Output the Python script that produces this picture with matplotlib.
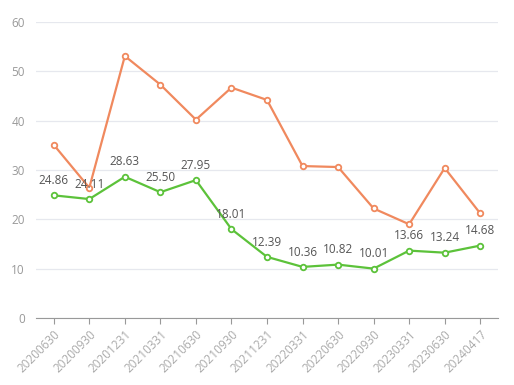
import matplotlib
matplotlib.use("Agg")
import matplotlib.pyplot as plt

# ---------- DATA ----------
dates = ["20200630", "20200930", "20201231", "20210331", "20210630", "20210930",
         "20211231", "20220331", "20220630", "20220930", "20230331", "20230630",
         "20240417"]
orange_vals = [35.1, 26.4, 53.1, 47.3, 40.2, 46.7, 44.2, 30.8, 30.6, 22.2, 19.0, 30.4, 21.2]
green_vals = [24.86, 24.11, 28.63, 25.50, 27.95, 18.01, 12.39, 10.36, 10.82, 10.01, 13.66, 13.24, 14.68]

ORANGE = "#F0895E"
GREEN = "#5CC23A"

plt.rcParams["font.family"] = ["Open Sans", "DejaVu Sans"]

fig = plt.figure(figsize=(5.14, 3.85), dpi=100)
ax = fig.add_axes([36 / 514, 1 - 318 / 385, 462 / 514, 296 / 385])

x = list(range(len(dates)))
ax.plot(x, orange_vals, color=ORANGE, lw=1.6, marker="o", ms=4,
        mfc="white", mec=ORANGE, mew=1.3, zorder=3)
ax.plot(x, green_vals, color=GREEN, lw=1.6, marker="o", ms=4,
        mfc="white", mec=GREEN, mew=1.3, zorder=4)

# value labels on green line
for xi, v in zip(x, green_vals):
    ax.annotate(f"{v:.2f}", (xi, v), xytext=(0, 6), textcoords="offset points",
                ha="center", va="bottom", fontsize=8.5, color="#555555", zorder=5)

ax.set_xlim(-0.5, len(dates) - 0.5)
ax.set_ylim(0, 60)
ax.set_yticks(range(0, 61, 10))
ax.set_xticks(x)
ax.set_xticklabels(dates, rotation=45, ha="right", rotation_mode="anchor")

ax.grid(axis="y", color="#E6E8EE", lw=0.9)
ax.set_axisbelow(True)
for s in ["top", "right", "left"]:
    ax.spines[s].set_visible(False)
ax.spines["bottom"].set_color("#999999")
ax.tick_params(axis="y", length=0, colors="#999999", labelsize=8.5, pad=8)
ax.tick_params(axis="x", length=4, color="#999999", labelcolor="#AAAAAA",
               labelsize=8.5, pad=3)

fig.savefig("out.png", dpi=100)
